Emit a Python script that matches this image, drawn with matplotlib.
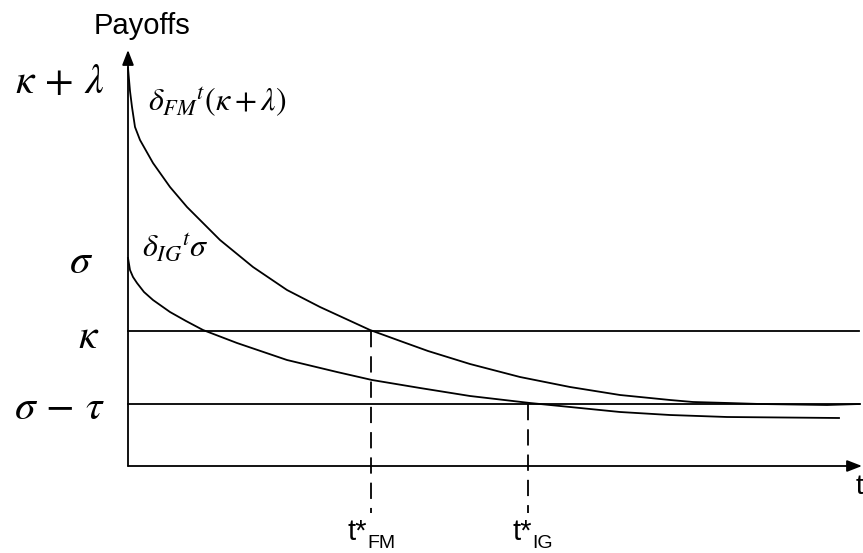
"""Schematic of the two discounted payoff paths against the kappa and sigma-tau levels."""
import matplotlib
matplotlib.use("Agg")
import matplotlib.pyplot as plt

plt.rcParams["mathtext.fontset"] = "stix"
plt.rcParams["font.family"] = ["Liberation Sans", "DejaVu Sans"]

# levels (arbitrary units)
kappa = 135
sigma_minus_tau = 62
sigma = 208
kappa_plus_lambda = 398

# delta_FM^t (kappa + lambda)
fm_t = [0, 2, 4, 7, 12, 25, 42, 59, 92, 125, 159, 192, 242, 275, 300, 342, 392, 442, 492, 542, 565, 600, 632, 699, 732]
fm_v = [398, 375, 359, 339, 326, 303, 279, 259, 226, 199, 176, 159, 136, 124, 115, 102, 89, 79, 71, 66, 64, 63, 62, 61, 62]

# delta_IG^t sigma
ig_t = [0, 2, 5, 9, 16, 25, 42, 58, 75, 109, 159, 209, 244, 292, 342, 402, 442, 492, 542, 599, 711]
ig_v = [208, 196, 189, 183, 174, 166, 154, 145, 136, 123, 106, 94, 86, 78, 70, 63, 59, 54, 51, 49, 48]

# crossing points
t_fm = 243
t_ig = 400

t_end = 731
y_top = 416

fig = plt.figure(figsize=(8.63, 5.53), dpi=100)
ax = fig.add_axes([0, 0, 1, 1])
ax.set_xlim(-128, 735)
ax.set_ylim(-87, 466)
ax.set_axis_off()

lw = 1.3
arrow = dict(arrowstyle="-|>,head_length=0.9,head_width=0.35", color="black", lw=lw, shrinkA=0, shrinkB=0)
ax.annotate("", xy=(0, y_top), xytext=(0, 0), arrowprops=arrow)
ax.annotate("", xy=(t_end + 3, 0), xytext=(0, 0), arrowprops=arrow)

ax.plot([0, t_end], [kappa, kappa], color="black", lw=lw)
ax.plot([0, t_end], [sigma_minus_tau, sigma_minus_tau], color="black", lw=lw)

ax.plot(fm_t, fm_v, color="black", lw=lw)
ax.plot(ig_t, ig_v, color="black", lw=lw)

dash = dict(color="black", lw=lw, dashes=(9, 5))
ax.plot([t_fm, t_fm], [kappa, -47], **dash)
ax.plot([t_ig, t_ig], [sigma_minus_tau, -47], **dash)

ax.text(14, 440, "Payoffs", fontsize=21, ha="center", va="center")
ax.text(731, -21, "t", fontsize=20, ha="center", va="center")
ax.text(229, -66, "t*", fontsize=21, ha="center", va="center")
ax.text(239, -86, "FM", fontsize=14, ha="left", va="bottom")
ax.text(394, -66, "t*", fontsize=21, ha="center", va="center")
ax.text(404, -86, "IG", fontsize=14, ha="left", va="bottom")

ax.text(-24, 384, r"$\kappa\,+\,\lambda$", fontsize=30, ha="right", va="center")
ax.text(-35, 204, r"$\sigma$", fontsize=30, ha="right", va="center")
ax.text(-29, 129, r"$\kappa$", fontsize=30, ha="right", va="center")
ax.text(-23, 58, r"$\sigma\,-\,\tau$", fontsize=30, ha="right", va="center")

ax.text(20, 364, r"$\delta_{FM}{}^{t}(\kappa+\lambda)$", fontsize=23, ha="left", va="center")
ax.text(14, 218, r"$\delta_{IG}{}^{t}\sigma$", fontsize=23, ha="left", va="center")

fig.savefig("out.png", dpi=100)
